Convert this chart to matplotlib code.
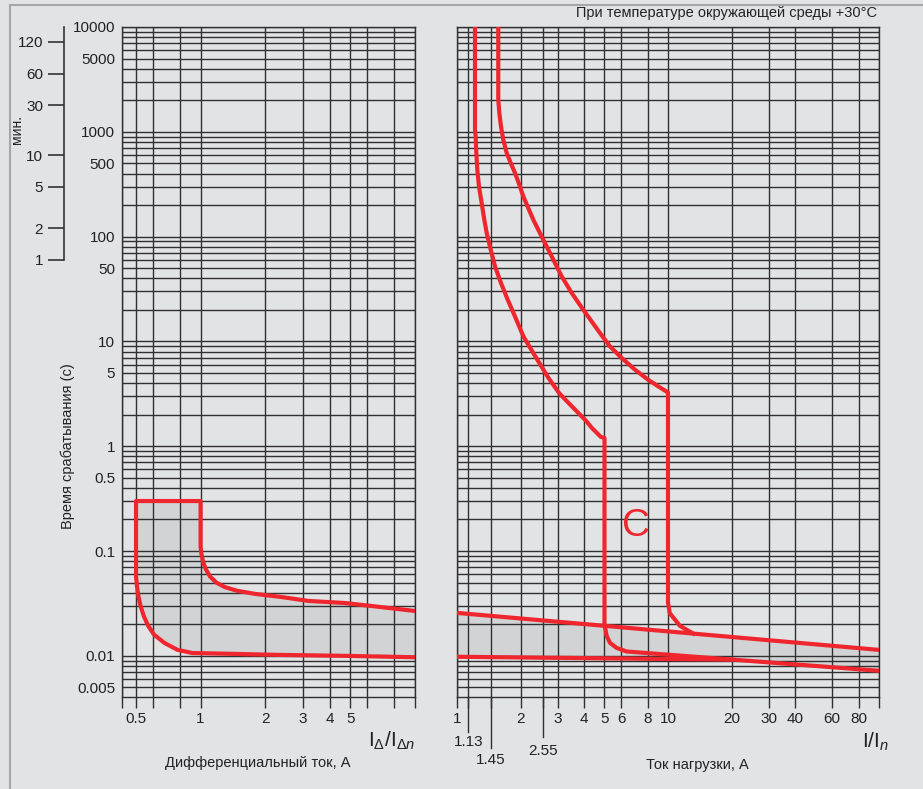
import numpy as np
import matplotlib.pyplot as plt
from matplotlib.lines import Line2D
from matplotlib.ticker import FixedLocator, FixedFormatter, LogLocator, NullLocator, NullFormatter

plt.rcParams["font.family"] = ["Liberation Sans", "DejaVu Sans"]
plt.rcParams["mathtext.fontset"] = "custom"
plt.rcParams["mathtext.rm"] = "Liberation Sans"
plt.rcParams["mathtext.it"] = "Liberation Sans:italic"

# ---- data ----
# left panel: RCD tripping band (x = I_d / I_dn, t in seconds)
rcd_upper_x = [1, 1, 1.008, 1.026, 1.057, 1.106, 1.183, 1.297, 1.479, 1.782, 2.39, 3.19,
               4.74, 6.56, 10]
rcd_upper_t = [0.3, 0.11, 0.0957, 0.0796, 0.0673, 0.0573, 0.0501, 0.0453, 0.0418, 0.0391,
               0.0364, 0.0334, 0.0319, 0.0296, 0.0268]
rcd_lower_x = [0.5, 0.5, 0.505, 0.513, 0.5255, 0.544, 0.569, 0.607, 0.680, 0.779, 0.915,
               1.274, 2.225, 4.74, 10]
rcd_lower_t = [0.3, 0.057, 0.0459, 0.0369, 0.0296, 0.0238, 0.0194, 0.0159, 0.01324,
               0.01143, 0.01064, 0.0105, 0.01023, 0.0100, 0.0097]

# right panel: C curve (x = I / In)
c_cold_x = [1.217, 1.217, 1.226, 1.235, 1.248, 1.271, 1.309, 1.347, 1.383, 1.445, 1.514,
            1.616, 1.739, 1.883, 2.062, 2.299, 2.709, 3.053, 3.37, 4.087, 4.35, 4.80,
            5.0, 5.0, 5.12, 5.31, 5.71, 6.37, 100]
c_cold_t = [10000, 1050, 904, 628, 435, 301, 209, 145, 108, 75, 52,
            36.1, 25.0, 17.3, 11.2, 7.75, 4.5, 3.2, 2.6, 1.75, 1.5, 1.23,
            1.2, 0.02, 0.0155, 0.0133, 0.0119, 0.011, 0.0072]
c_hot_x = [1.569, 1.569, 1.587, 1.616, 1.657, 1.720, 1.797, 1.883, 1.974, 2.062, 2.177,
           2.299, 2.520, 2.709, 2.914, 3.135, 3.497, 3.968, 4.349, 4.762, 5.309, 6.034,
           6.977, 8.065, 8.995, 10, 10, 10.2, 11.4, 13.18]
c_hot_t = [10000, 2020, 1511, 1127, 841, 628, 504, 405, 313, 242, 187,
           145, 100, 75, 56, 41.7, 29.0, 20, 15.5, 12, 8.96, 6.95,
           5.37, 4.3, 3.72, 3.26, 0.032, 0.0255, 0.0193, 0.0163]
inst_upper_x = [1, 100]
inst_upper_t = [0.0257, 0.0114]
inst_lower_x = [1, 20]
inst_lower_t = [0.0098, 0.0092]
band_lower_x = [1, 20, 100]
band_lower_t = [0.0098, 0.0092, 0.0072]

y_labels = [10000, 5000, 1000, 500, 100, 50, 10, 5, 1, 0.5, 0.1, 0.01, 0.005]
y_label_text = ["10000", "5000", "1000", "500", "100", "50", "10", "5", "1",
                "0.5", "0.1", "0.01", "0.005"]

left_ticks = [0.43, 0.5, 0.6, 0.8, 1, 2, 3, 4, 5, 6, 8, 10]
left_tick_text = ["", "0.5", "", "", "1", "2", "3", "4", "5", "", "", ""]
right_ticks = [1, 1.13, 1.45, 2, 2.55, 3, 4, 5, 6, 8, 10, 20, 30, 40, 60, 80, 100]
right_tick_text = ["1", "", "", "2", "", "3", "4", "5", "6", "8", "10", "20", "30",
                   "40", "60", "80", ""]
special_ticks = [1.13, 1.45, 2.55]
special_text = ["1.13", "1.45", "2.55"]

minute_ticks_s = [7200, 3600, 1800, 600, 300, 120, 60]
minute_text = ["120", "60", "30", "10", "5", "2", "1"]

BG = "#e2e3e5"
BAND = "#d2d3d5"
GRID = "#303030"
RED = "#f0262e"
W, H = 923, 789
YLIM = (0.00405, 10000)


def fx(px):
    return px / W


def fy(py):
    return 1 - py / H


def style_axes(ax, xlim, ticks, labels):
    ax.set_xscale("log")
    ax.set_yscale("log")
    ax.set_xlim(*xlim)
    ax.set_ylim(*YLIM)
    ax.set_facecolor(BG)
    ax.xaxis.set_major_locator(FixedLocator(ticks))
    ax.xaxis.set_major_formatter(FixedFormatter(labels))
    ax.xaxis.set_minor_locator(NullLocator())
    ax.yaxis.set_major_locator(FixedLocator(y_labels))
    ax.yaxis.set_minor_locator(LogLocator(base=10, subs=np.arange(1, 10), numticks=30))
    ax.yaxis.set_minor_formatter(NullFormatter())
    ax.tick_params(axis="x", which="both", direction="out", length=8, width=1.0,
                   color=GRID, labelsize=11, pad=3, labelcolor="#222222")
    ax.tick_params(axis="y", which="both", length=0, labelsize=11, pad=5,
                   labelcolor="#222222")
    ax.grid(True, which="both", color=GRID, linewidth=1.0)
    for s in ax.spines.values():
        s.set_color(GRID)
        s.set_linewidth(1.0)


fig = plt.figure(figsize=(W / 100, H / 100), dpi=100, facecolor=BG)

bottom = fy(697)
height = 670 / H

# left panel
ax1 = fig.add_axes([fx(122), bottom, 293 / W, height])
style_axes(ax1, (0.43, 10), left_ticks, left_tick_text)
ax1.yaxis.set_major_formatter(FixedFormatter(y_label_text))
ax1.fill(rcd_lower_x + rcd_upper_x[::-1] + [0.5],
         rcd_lower_t + rcd_upper_t[::-1] + [0.3], color=BAND, zorder=1, lw=0)
ax1.plot(rcd_upper_x[::-1] + [0.5] + rcd_lower_x[1:],
         rcd_upper_t[::-1] + [0.3] + rcd_lower_t[1:],
         color=RED, lw=3, zorder=3, solid_joinstyle="round")

# right panel
ax2 = fig.add_axes([fx(457), bottom, 422 / W, height])
style_axes(ax2, (1, 100), right_ticks, right_tick_text)
ax2.yaxis.set_major_formatter(NullFormatter())
ax2.fill(inst_upper_x + band_lower_x[::-1], inst_upper_t + band_lower_t[::-1],
         color=BAND, zorder=1, lw=0)
ax2.plot(inst_upper_x, inst_upper_t, color=RED, lw=3, zorder=3)
ax2.plot(inst_lower_x, inst_lower_t, color=RED, lw=3, zorder=3)
ax2.plot(c_cold_x, c_cold_t, color=RED, lw=3, zorder=3, solid_joinstyle="round")
ax2.plot(c_hot_x, c_hot_t, color=RED, lw=3, zorder=3, solid_joinstyle="round")
ax2.text(0.424, 0.255, "C", transform=ax2.transAxes, color=RED, fontsize=28,
         ha="center", va="center")

# long ticks for 1.13, 1.45, 2.55
tr = ax2.get_xaxis_transform()
tick_len = [0.052, 0.076, 0.060]
text_y = [-0.067, -0.094, -0.081]
for xv, lab, ln, ty in zip(special_ticks, special_text, tick_len, text_y):
    ax2.plot([xv, xv], [0, -ln], transform=tr, color=GRID, lw=1.0, clip_on=False)
    ax2.text(xv, ty, lab, transform=tr, ha="center", va="center", fontsize=11,
             color="#222222")

# minutes scale
axm = fig.add_axes([fx(64), bottom, 0.001, height])
axm.set_yscale("log")
axm.set_ylim(*YLIM)
axm.patch.set_visible(False)
for side in ["top", "right", "bottom"]:
    axm.spines[side].set_visible(False)
axm.spines["left"].set_bounds(60, 10000)
axm.spines["left"].set_color("#333333")
axm.spines["left"].set_linewidth(1.2)
axm.set_xticks([])
axm.yaxis.set_major_locator(FixedLocator(minute_ticks_s))
axm.yaxis.set_major_formatter(FixedFormatter(minute_text))
axm.yaxis.set_minor_locator(NullLocator())
axm.tick_params(axis="y", length=11.5, width=1.2, color="#333333", labelsize=11,
                pad=3.5, labelcolor="#222222")

# texts
fig.text(fx(17), fy(130), "мин.", rotation=90, ha="center", va="center", fontsize=10,
         color="#222222")
fig.text(fx(68), fy(446), "Время срабатывания (с)", rotation=90, ha="center",
         va="center", fontsize=10.5, color="#222222")
fig.text(fx(877), fy(13), "При температуре окружающей среды +30°C", ha="right",
         va="center", fontsize=10.5, color="#222222")
fig.text(fx(392), fy(741), r"I$_{\Delta}$/I$_{\Delta n}$", ha="center", va="center",
         fontsize=15, color="#222222")
fig.text(fx(876), fy(742), r"I/I$_{n}$", ha="center", va="center", fontsize=15,
         color="#222222")
fig.text(fx(258), fy(763), "Дифференциальный ток, А", ha="center", va="center",
         fontsize=10.5, color="#222222")
fig.text(fx(697), fy(765), "Ток нагрузки, А", ha="center", va="center",
         fontsize=10.5, color="#222222")

# outer frame
fig.add_artist(Line2D([fx(10), fx(10)], [0, fy(5)], color="#a5a6a8", lw=1.5))
fig.add_artist(Line2D([fx(10), 1], [fy(5), fy(5)], color="#a5a6a8", lw=1.5))

fig.savefig("out.png", dpi=100, facecolor=BG)
